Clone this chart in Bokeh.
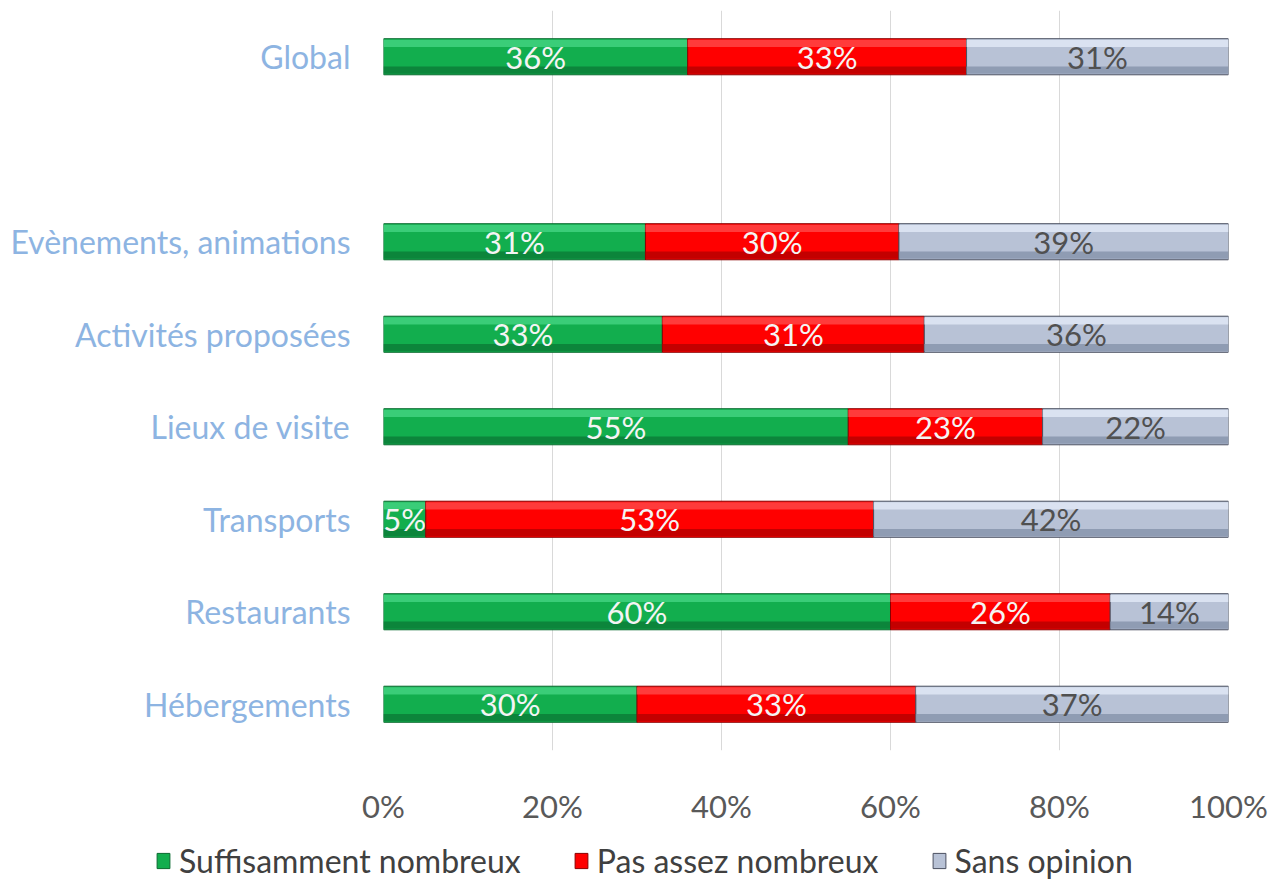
from bokeh.plotting import figure
from bokeh.models import ColumnDataSource, FixedTicker, NumeralTickFormatter, Legend, LegendItem, Range1d
from bokeh.core.properties import value
from bokeh.embed import file_html
from bokeh.resources import INLINE

categories = ["Hébergements", "Restaurants", "Transports", "Lieux de visite",
              "Activités proposées", "Evènements, animations", "", "Global"]
suffisant = [30, 60, 5, 55, 33, 31, None, 36]
pas_assez = [33, 26, 53, 23, 31, 30, None, 33]
sans_opinion = [37, 14, 42, 22, 36, 39, None, 31]
series_names = ["Suffisamment nombreux", "Pas assez nombreux", "Sans opinion"]
x_ticks = [0, 0.2, 0.4, 0.6, 0.8, 1.0]

FONT = "Lato"
FS = "31px"
styles = [
    dict(base="#12AE4E", hi="#45D483", lo="#0B7A37", edge="#0A6A2F", txt="#F4F4F4"),
    dict(base="#FF0000", hi="#FF4A4A", lo="#B40000", edge="#8A0000", txt="#F4F4F4"),
    dict(base="#B8C2D6", hi="#E2EAF7", lo="#8592AA", edge="#4A5060", txt="#505050"),
]

p = figure(frame_width=845, frame_height=740, output_backend="svg", toolbar_location=None,
           x_range=Range1d(0, 1), y_range=Range1d(-0.5, 7.5),
           min_border_left=383, min_border_right=40, min_border_top=10, min_border_bottom=70)
p.outline_line_color = None
p.background_fill_color = "white"

ys = [i for i, c in enumerate(categories) if c]
series = [suffisant, pas_assez, sans_opinion]
left = {i: 0.0 for i in ys}
H = 0.39
for s, st in zip(series, styles):
    l, r, y, mid, lab = [], [], [], [], []
    for i in ys:
        v = s[i] / 100.0
        l.append(left[i]); r.append(left[i] + v); y.append(i)
        mid.append(left[i] + v / 2); lab.append(f"{s[i]}%")
        left[i] += v
    src = ColumnDataSource(dict(l=l, r=r, y=y, mid=mid, lab=lab,
                                yt=[v + H / 2 - 0.05 for v in y],
                                yb=[v - H / 2 + 0.05 for v in y]))
    p.hbar(y="y", left="l", right="r", height=H, source=src,
           fill_color=st["base"], line_color=st["edge"], line_width=1)
    p.hbar(y="yt", left="l", right="r", height=0.08, source=src,
           fill_color=st["hi"], line_color=None, fill_alpha=0.8)
    p.hbar(y="yb", left="l", right="r", height=0.08, source=src,
           fill_color=st["lo"], line_color=None, fill_alpha=0.8)
    p.text(x="mid", y="y", text="lab", source=src, text_align="center",
           text_baseline="middle", text_color=st["txt"], text_font=value(FONT),
           text_font_size=FS)

p.xaxis.ticker = FixedTicker(ticks=x_ticks)
p.xaxis.formatter = NumeralTickFormatter(format="0%")
p.xaxis.axis_line_color = None
p.xaxis.major_tick_line_color = None
p.xaxis.minor_tick_line_color = None
p.xaxis.major_label_text_color = "#595959"
p.xaxis.major_label_text_font = FONT
p.xaxis.major_label_text_font_size = FS
p.xaxis.major_label_standoff = 30

p.yaxis.ticker = FixedTicker(ticks=ys)
p.yaxis.major_label_overrides = {i: categories[i] for i in ys}
p.yaxis.axis_line_color = None
p.yaxis.major_tick_line_color = None
p.yaxis.minor_tick_line_color = None
p.yaxis.major_label_text_color = "#8DB4E2"
p.yaxis.major_label_text_font = FONT
p.yaxis.major_label_text_font_size = "32px"
p.yaxis.major_label_standoff = 27

p.xgrid.ticker = FixedTicker(ticks=x_ticks)
p.xgrid.grid_line_color = "#D9D9D9"
p.ygrid.grid_line_color = None

# legend in its own strip below the chart (separate root, no frame alignment)
lf = figure(frame_width=1266, frame_height=60, output_backend="svg", toolbar_location=None,
            x_axis_type=None, y_axis_type=None, x_range=Range1d(0, 1), y_range=Range1d(0, 1),
            min_border=0)
lf.outline_line_color = None
items = []
for n, st in zip(series_names, styles):
    r = lf.hbar(y=[-5], left=[0], right=[0.1], height=0.5, fill_color=st["base"], line_color=st["edge"])
    items.append(LegendItem(label=n, renderers=[r]))
legend = Legend(items=items, orientation="horizontal", location=(155, 7),
                label_text_font=FONT, label_text_font_size="32px", label_text_color="#404040",
                glyph_width=16, glyph_height=19, spacing=52, border_line_color=None,
                background_fill_alpha=0, margin=0, padding=0, label_standoff=8)
lf.add_layout(legend, "center")

open("out.html", "w").write(file_html([p, lf], INLINE))
